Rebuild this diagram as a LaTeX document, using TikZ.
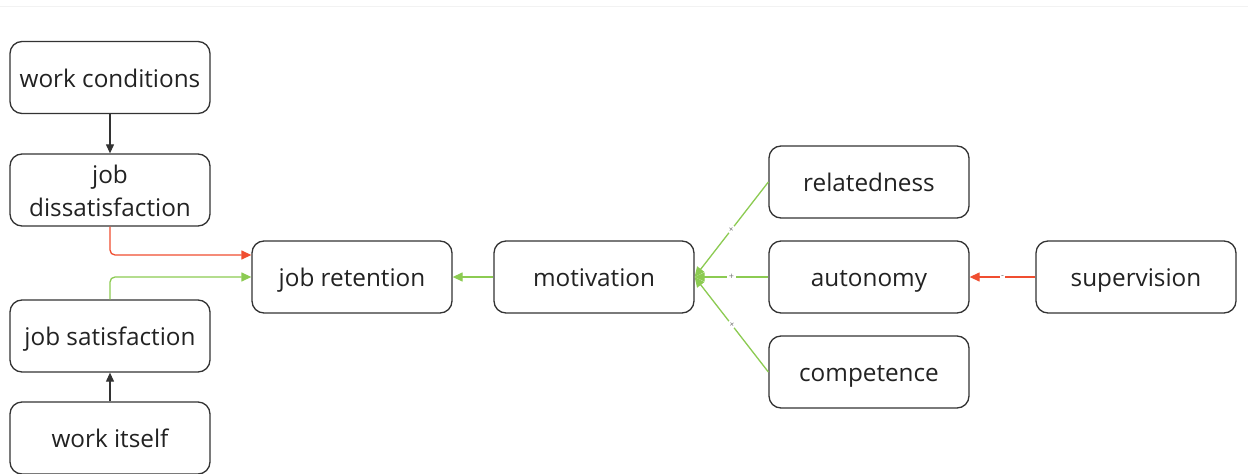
\documentclass[tikz,border=0pt]{standalone}
\usepackage{fontspec}
\setmainfont{Open Sans}
\usetikzlibrary{arrows.meta}
\definecolor{boxline}{HTML}{333333}
\definecolor{textdark}{HTML}{222222}
\definecolor{posgreen}{HTML}{8CCB52}
\definecolor{negred}{HTML}{F04E30}
\definecolor{rulegray}{HTML}{F2F2F2}
\begin{document}
\begin{tikzpicture}[x=1pt,y=-1pt,
  concept/.style={draw=boxline, line width=1.3pt, rounded corners=12pt,
    minimum width=200pt, minimum height=72pt, inner sep=0pt, align=center,
    text height=19.5pt, text depth=0.5pt,
    text=textdark, font=\fontsize{24.3}{33}\selectfont},
  twoline/.style={text height=52.5pt},
  link/.style={line width=1.3pt, -{Triangle[length=10pt,width=9pt]}},
  graylink/.style={link, draw=boxline, line width=1.1pt, -{Triangle[length=9pt,width=8pt]}},
  poslink/.style={link, draw=posgreen, fill=posgreen},
  neglink/.style={link, draw=negred, fill=negred},
  sign/.style={font=\fontsize{9}{9}\selectfont, text=black!55, fill=white,
    inner sep=1.5pt, sloped}
]
\useasboundingbox (0,0) rectangle (1248,474);
\fill[white] (0,0) rectangle (1248,474);
\draw[rulegray, line width=0.8pt] (0,6) -- (1248,6);

% factors on the left
\node[concept] (wc) at (110,77.5) {work conditions};
\node[concept, twoline] (jd) at (110,190) {job\\dissatisfaction};
\node[concept] (js) at (110,336) {job satisfaction};
\node[concept] (wi) at (110,438) {work itself};

% outcome chain
\node[concept] (jr) at (352,277) {job retention};
\node[concept] (mo) at (594,277) {motivation};

% needs and their driver
\node[concept] (re) at (869,182) {relatedness};
\node[concept] (au) at (869,277) {autonomy};
\node[concept] (co) at (869,372) {competence};
\node[concept] (su) at (1136,277) {supervision};

% connectors
\draw[graylink] (wc.south) -- (jd.north);
\draw[graylink] (wi.north) -- (js.south);
\draw[neglink, fill=none, rounded corners=5pt] (jd.south) |- ([yshift=22pt]jr.west);
\draw[poslink, fill=none, rounded corners=5pt] (js.north) |- (jr.west);
\draw[poslink] (mo.west) -- (jr.east);
\draw[poslink] (re.west) -- node[sign] {+} (mo.east);
\draw[poslink] (au.west) -- node[sign] {+} (mo.east);
\draw[poslink] (co.west) -- node[sign] {+} (mo.east);
\draw[neglink] (su.west) -- node[sign] {-} (au.east);
\end{tikzpicture}
\end{document}
